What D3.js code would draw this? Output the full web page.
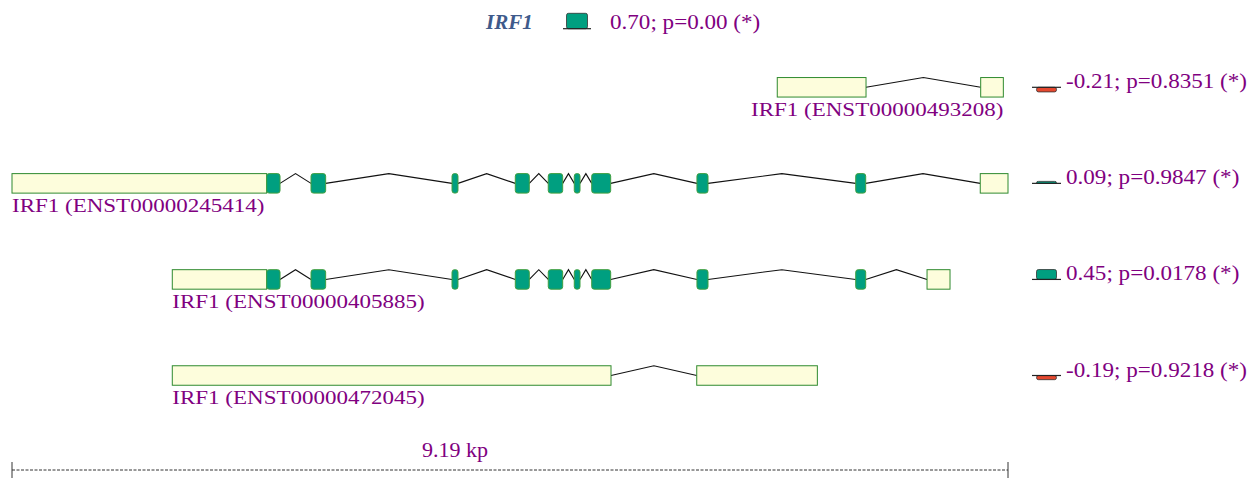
<!DOCTYPE html>
<html>
<head>
<meta charset="utf-8">
<script src="https://cdn.jsdelivr.net/npm/d3@7/dist/d3.min.js"></script>
<style>
  html, body { margin: 0; padding: 0; background: #fff; }
  svg { display: block; }
</style>
</head>
<body>
<svg id="chart" width="1260" height="481"></svg>
<script>
// ---------- data (genomic positions in bp relative to locus start) ----------
const geneName = "IRF1";
const geneCorr = 0.70;
const geneP = "0.00";
const spanBp = 9190;
const spanLabel = "9.19 kp";

const transcripts = ["ENST00000493208", "ENST00000245414", "ENST00000405885", "ENST00000472045"];
const corrValues = [-0.21, 0.09, 0.45, -0.19];
const pValues = ["0.8351", "0.9847", "0.0178", "0.9218"];

// exon segments: [start, end, type]
const exons493208 = [[7061, 7880, "utr"], [8938, 9147, "utr"]];
const exons245414 = [[0, 2350, "utr"], [2350, 2473, "cds"], [2759, 2894, "cds"], [4060, 4115, "cds"],
  [4644, 4773, "cds"], [4948, 5081, "cds"], [5188, 5241, "cds"], [5349, 5524, "cds"],
  [6320, 6422, "cds"], [7785, 7877, "cds"], [8934, 9190, "utr"]];
const exons405885 = [[1479, 2350, "utr"], [2350, 2473, "cds"], [2759, 2894, "cds"], [4060, 4115, "cds"],
  [4644, 4773, "cds"], [4948, 5081, "cds"], [5188, 5241, "cds"], [5349, 5524, "cds"],
  [6320, 6422, "cds"], [7785, 7877, "cds"], [8443, 8655, "utr"]];
const exons472045 = [[1479, 5527, "utr"], [6318, 7431, "utr"]];

const exonLists = [exons493208, exons245414, exons405885, exons472045];

// ---------- styles ----------
const purple = "#800080";
const utrFill = "#fdfddc", utrStroke = "#2f8a2f";
const cdsFill = "#009f80", cdsStroke = "#3f9f3f";
const negFill = "#e5482f";
const serif = "'Liberation Serif', 'Times New Roman', serif";
const stretch = 1.1;

const svg = d3.select("#chart");

const x = d3.scaleLinear().domain([0, spanBp]).range([12, 1008]);
const y = d3.scalePoint().domain(transcripts).range([87.3, 375.5]);
const barH = 19.5;
const mh = d3.scaleLinear().domain([0, 1]).range([0, 22]);

function stretchedText(g, tx, ty, str, opts) {
  const t = g.append("text")
    .attr("transform", `translate(${tx},${ty}) scale(${opts.sx || stretch},1)`)
    .attr("font-family", serif)
    .attr("font-size", opts.size || 21)
    .attr("fill", opts.fill || purple)
    .attr("text-anchor", opts.anchor || "start")
    .text(str);
  if (opts.weight) t.attr("font-weight", opts.weight);
  if (opts.style) t.attr("font-style", opts.style);
  return t;
}

function marker(g, cy, v, x0, x1, inset) {
  const hh = mh(Math.abs(v));
  const top = v >= 0 ? cy - hh : cy;
  g.append("rect")
    .attr("x", x0 + inset).attr("width", x1 - x0 - 2 * inset)
    .attr("y", top).attr("height", Math.max(hh, 1.5))
    .attr("rx", 2)
    .attr("fill", v >= 0 ? cdsFill : negFill)
    .attr("stroke", "#333").attr("stroke-width", 0.8);
  g.append("line")
    .attr("x1", x0).attr("x2", x1).attr("y1", cy).attr("y2", cy)
    .attr("stroke", "#222").attr("stroke-width", 1.2);
}

// ---------- title ----------
const title = svg.append("g");
stretchedText(title, 486, 29, geneName, { fill: "#3e5a8b", weight: "bold", style: "italic", sx: 1.0, size: 21 });
marker(title, 28.7, geneCorr, 563, 591, 3.5);
stretchedText(title, 610, 29, `${geneCorr.toFixed(2)}; p=${geneP} (*)`, {});

// ---------- transcripts ----------
transcripts.forEach((id, i) => {
  const g = svg.append("g");
  const cy = y(id);
  const ex = exonLists[i];
  // introns
  for (let k = 0; k < ex.length - 1; k++) {
    const a = ex[k][1], b = ex[k + 1][0];
    if (b <= a) continue;
    const xa = x(a), xb = x(b), xm = (xa + xb) / 2;
    g.append("polyline")
      .attr("points", `${xa},${cy} ${xm},${cy - barH / 2} ${xb},${cy}`)
      .attr("fill", "none").attr("stroke", "#111").attr("stroke-width", 1.1);
  }
  // exons
  ex.forEach(([s, e, t]) => {
    g.append("rect")
      .attr("x", x(s)).attr("width", x(e) - x(s))
      .attr("y", cy - barH / 2).attr("height", barH)
      .attr("rx", t === "cds" ? 2.5 : 0)
      .attr("fill", t === "cds" ? cdsFill : utrFill)
      .attr("stroke", t === "cds" ? cdsStroke : utrStroke)
      .attr("stroke-width", 1);
  });
  // label
  const label = `${geneName} (${id})`;
  const startX = x(ex[0][0]), endX = x(ex[ex.length - 1][1]);
  const approxW = 253;
  const fitsLeft = startX + approxW <= x(spanBp);
  stretchedText(g, fitsLeft ? startX : endX, cy + barH / 2 + 18.5, label,
    { anchor: fitsLeft ? "start" : "end", sx: 1.18, size: 19.5 });
  // legend marker and text
  marker(g, cy, corrValues[i], 1032, 1061, 4.5);
  const v = corrValues[i];
  stretchedText(g, 1066, cy + 1, `${v.toFixed(2)}; p=${pValues[i]} (*)`, {});
});

// ---------- scale bar ----------
const sb = svg.append("g");
const sy = 470;
sb.append("line").attr("x1", x(0)).attr("x2", x(spanBp)).attr("y1", sy).attr("y2", sy)
  .attr("stroke", "#333").attr("stroke-width", 1).attr("stroke-dasharray", "3,1.5");
[0, spanBp].forEach(p => {
  sb.append("line").attr("x1", x(p)).attr("x2", x(p)).attr("y1", sy - 8).attr("y2", sy + 8)
    .attr("stroke", "#333").attr("stroke-width", 1);
});
stretchedText(sb, 422, 457, spanLabel, { sx: 1.05 });
</script>
</body>
</html>
